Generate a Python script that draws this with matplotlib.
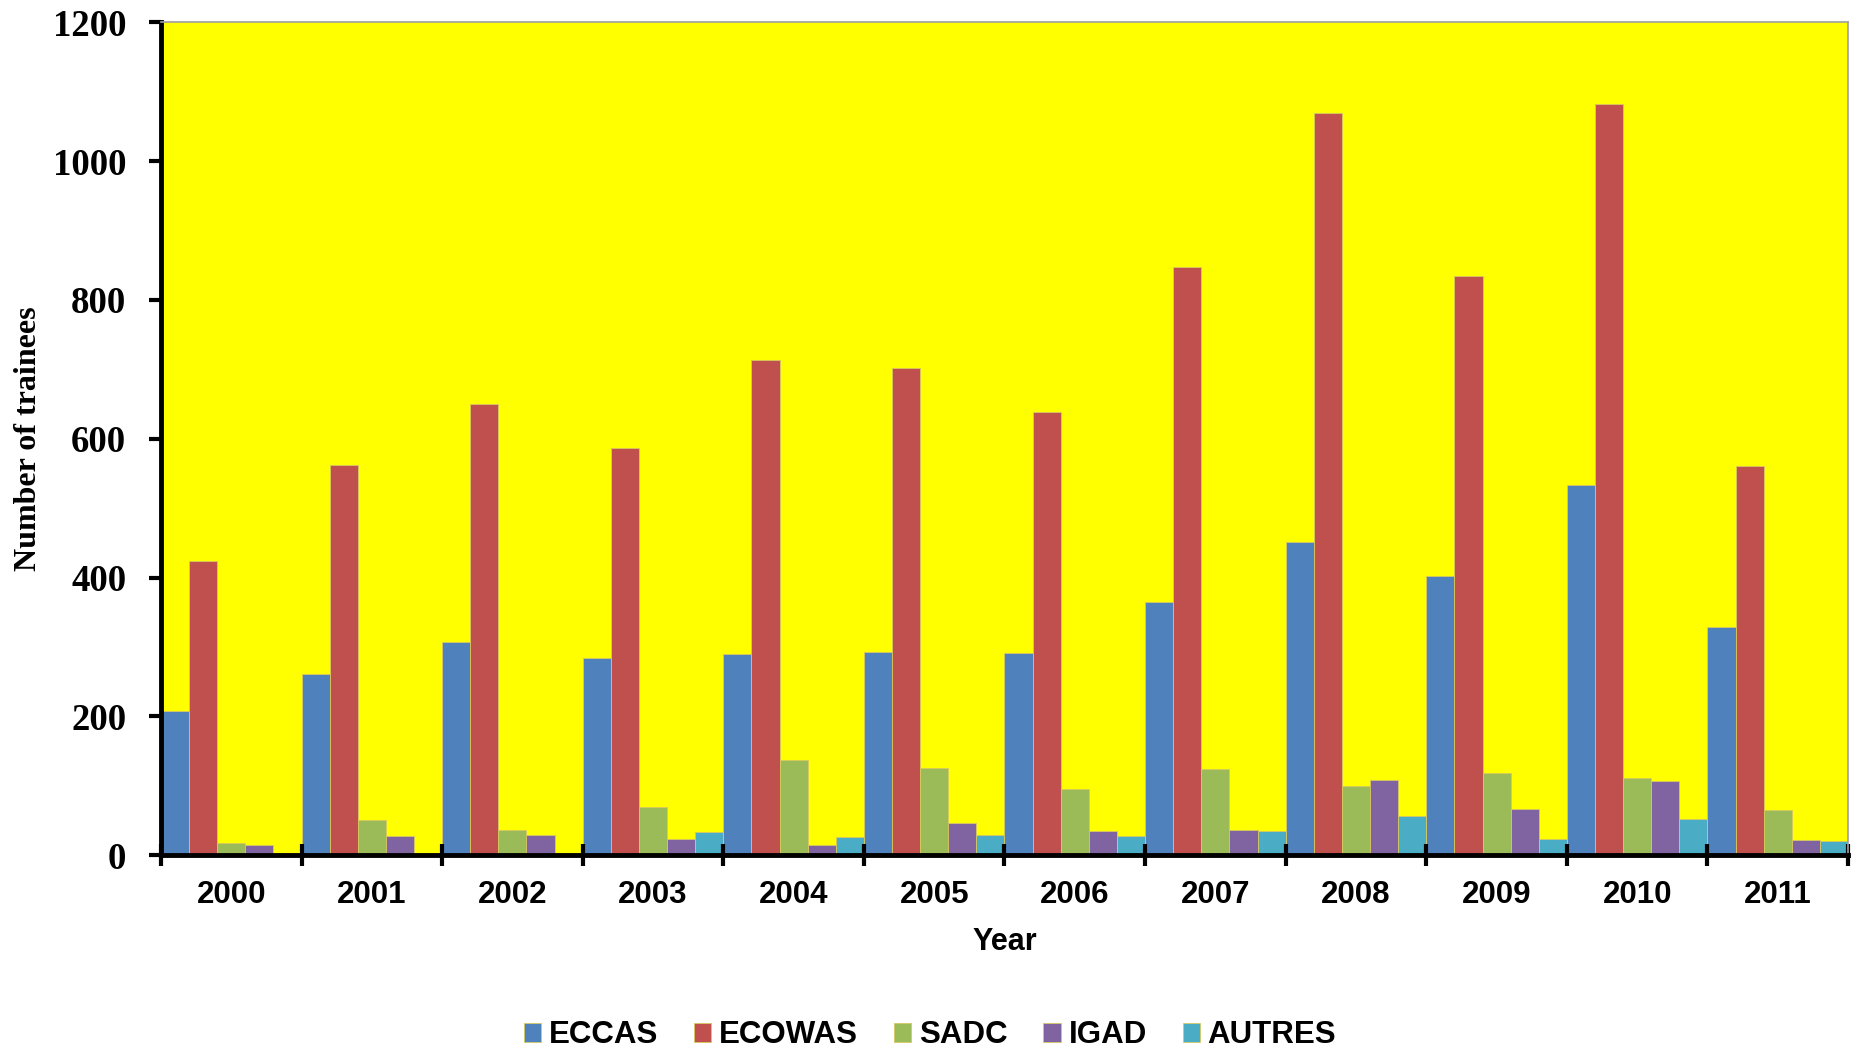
import matplotlib
matplotlib.use("Agg")
import matplotlib.pyplot as plt
import numpy as np

years = ["2000", "2001", "2002", "2003", "2004", "2005",
         "2006", "2007", "2008", "2009", "2010", "2011"]
eccas = [207, 261, 307, 284, 290, 292, 291, 364, 451, 402, 533, 329]
ecowas = [424, 562, 650, 586, 713, 702, 639, 847, 1069, 834, 1083, 560]
sadc = [17, 51, 36, 69, 137, 126, 95, 124, 100, 118, 111, 65]
igad = [14, 28, 29, 23, 14, 46, 34, 36, 108, 66, 107, 21]
autres = [0, 0, 0, 33, 26, 29, 28, 34, 56, 23, 52, 20]

series = [("ECCAS", eccas, "#4F81BD"),
          ("ECOWAS", ecowas, "#C0504D"),
          ("SADC", sadc, "#9BBB59"),
          ("IGAD", igad, "#8064A2"),
          ("AUTRES", autres, "#4BACC6")]

fig = plt.figure(figsize=(18.54, 10.49), dpi=100)
ax = fig.add_axes([0.0868, 0.1849, 0.91, 0.7937])
ax.set_facecolor("#FFFF00")

x = np.arange(len(years))
width = 0.2
handles = []
for k, (name, vals, color) in enumerate(series):
    b = ax.bar(x + (k - 2) * width, vals, width, color=color,
               edgecolor="#D8C860", linewidth=0.6, label=name)
    handles.append(b)

ax.set_xlim(-0.5, len(years) - 0.5)
ax.set_ylim(0, 1200)
ax.set_yticks(np.arange(0, 1201, 200))

# group boundaries as major ticks, year labels as minor ticks
ax.set_xticks(np.arange(-0.5, len(years), 1.0))
ax.set_xticklabels([])
ax.set_xticks(x, minor=True)
ax.set_xticklabels(years, minor=True)

serif_bold = dict(family="Liberation Serif", weight="bold")
sans_bold = dict(family="Liberation Sans", weight="bold")

for lbl in ax.get_yticklabels():
    lbl.set_fontfamily("Liberation Serif")
    lbl.set_fontweight("bold")
    lbl.set_fontsize(26.5)
for lbl in ax.get_xticklabels(minor=True):
    lbl.set_fontfamily("Liberation Sans")
    lbl.set_fontweight("bold")
    lbl.set_fontsize(22.5)

ax.tick_params(axis="y", direction="out", length=9, width=3, pad=16)
ax.tick_params(axis="x", which="major", direction="inout", length=16, width=3)
ax.tick_params(axis="x", which="minor", length=0, pad=18)

for side in ["left", "bottom"]:
    ax.spines[side].set_linewidth(3.5)
    ax.spines[side].set_color("black")
for side in ["top", "right"]:
    ax.spines[side].set_linewidth(1.2)
    ax.spines[side].set_color("#A0A0A0")

ax.set_ylabel("Number of trainees", fontsize=23, **serif_bold)
ax.yaxis.set_label_coords(-0.07, 0.5)
ax.set_xlabel("Year", fontsize=22, **sans_bold)
ax.xaxis.set_label_coords(0.5, -0.087)

fig.legend(handles=handles, loc="center", bbox_to_anchor=(0.5016, 0.0132),
           ncol=5, frameon=False, prop=dict(family="Liberation Sans", weight="bold", size=22.5),
           handlelength=0.55, handleheight=0.55, handletextpad=0.25, columnspacing=1.15)

fig.savefig("out.png", dpi=100)
